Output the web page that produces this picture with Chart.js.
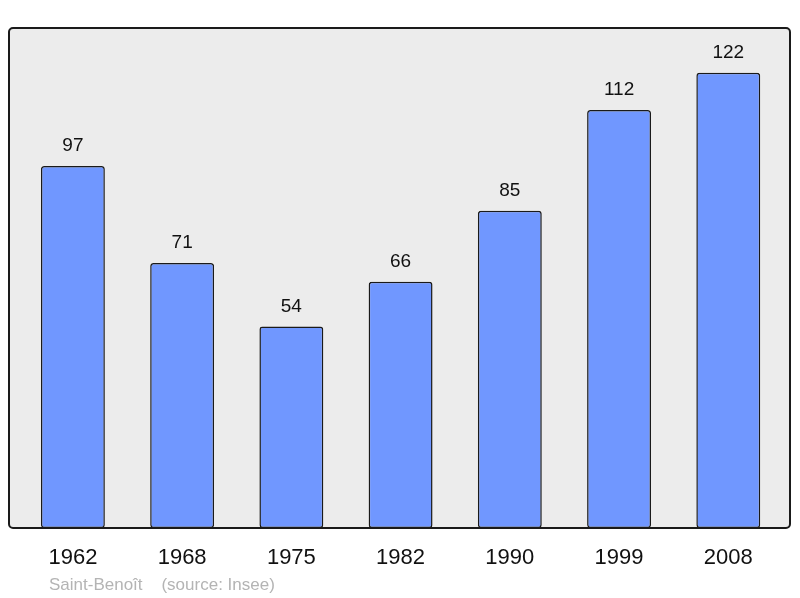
<!DOCTYPE html>
<html>
<head>
<meta charset="utf-8">
<script src="https://cdn.jsdelivr.net/npm/chart.js@4/dist/chart.umd.min.js"></script>
<style>
html,body{margin:0;padding:0;background:#fff;}
#wrap{width:800px;height:598px;position:relative;}
</style>
</head>
<body>
<div id="wrap"><canvas id="c" width="800" height="598"></canvas></div>
<script>
const years = ["1962","1968","1975","1982","1990","1999","2008"];
const population = [97, 71, 54, 66, 85, 112, 122];
const footerText = "Saint-Benoît    (source: Insee)";

const FONT = "'Liberation Sans', Arial, sans-serif";

const framePlugin = {
  id: 'frame',
  beforeDatasetsDraw(chart) {
    const {ctx, chartArea: a} = chart;
    ctx.save();
    ctx.beginPath();
    ctx.roundRect(a.left, a.top, a.right - a.left, a.bottom - a.top, 4);
    ctx.fillStyle = '#ececec';
    ctx.fill();
    ctx.restore();
  },
  afterDatasetsDraw(chart) {
    const {ctx, chartArea: a} = chart;
    ctx.save();
    ctx.beginPath();
    ctx.roundRect(a.left, a.top, a.right - a.left, a.bottom - a.top, 4);
    ctx.lineWidth = 2;
    ctx.strokeStyle = '#1a1a1a';
    ctx.stroke();
    // value labels
    const meta = chart.getDatasetMeta(0);
    ctx.fillStyle = '#111';
    ctx.font = '19px ' + FONT;
    ctx.textAlign = 'center';
    ctx.textBaseline = 'middle';
    meta.data.forEach((bar, i) => {
      ctx.fillText(String(population[i]), bar.x, bar.y - 20);
    });
    // footer
    ctx.font = '17px ' + FONT;
    ctx.fillStyle = '#b4b4b4';
    ctx.textAlign = 'left';
    ctx.fillText(footerText, 49, 585);
    ctx.restore();
  }
};

new Chart(document.getElementById('c'), {
  type: 'bar',
  data: {
    datasets: [{
      data: population.map((v, i) => ({x: i, y: v})),
      backgroundColor: '#7097ff',
      borderColor: '#1a1a1a',
      borderWidth: 1.5,
      borderRadius: 3,
      borderSkipped: false,
      categoryPercentage: 1,
      barPercentage: 0.585
    }]
  },
  options: {
    responsive: false,
    animation: false,
    devicePixelRatio: 1,
    layout: {padding: {left: 9, right: 10, top: 28, bottom: 0}},
    plugins: {legend: {display: false}, tooltip: {enabled: false}},
    scales: {
      x: {
        type: 'linear',
        offset: false,
        min: -0.585,
        max: 6.565,
        grid: {display: false, drawTicks: false, offset: false},
        border: {display: false},
        afterBuildTicks: s => { s.ticks = years.map((_, i) => ({value: i})); },
        afterFit: s => { s.height = 70; },
        ticks: {
          autoSkip: false,
          maxRotation: 0,
          padding: 17,
          color: '#111',
          font: {family: FONT, size: 22},
          callback: (v) => years[v] ?? ''
        }
      },
      y: {
        display: false,
        min: 0,
        max: 134
      }
    }
  },
  plugins: [framePlugin]
});
</script>
</body>
</html>
